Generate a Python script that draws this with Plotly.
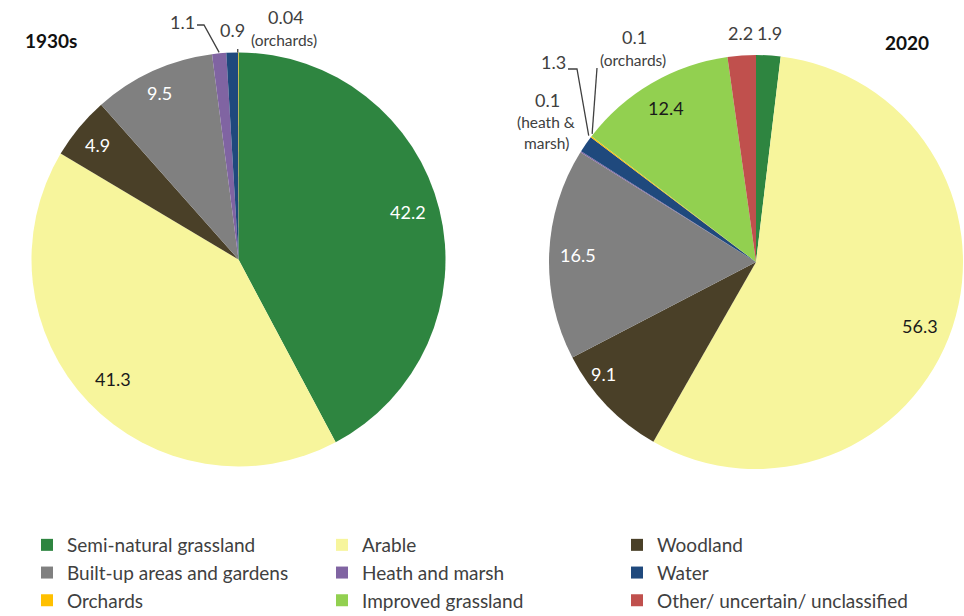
import math
import plotly.graph_objects as go

W, H = 964, 616

# ---------------- data ----------------
categories = ["Semi-natural grassland", "Arable", "Woodland",
              "Built-up areas and gardens", "Heath and marsh", "Water",
              "Orchards", "Improved grassland", "Other/ uncertain/ unclassified"]
category_colors = ["#2E8540", "#F7F59C", "#4A4028", "#808080", "#8064A2",
                   "#1F497D", "#FFC000", "#92D050", "#C0504D"]

labels_1930 = ["Semi-natural grassland", "Arable", "Woodland",
               "Built-up areas and gardens", "Heath and marsh", "Water", "Orchards"]
values_1930 = [42.2, 41.3, 4.9, 9.5, 1.1, 0.9, 0.04]
text_1930 = ["42.2", "41.3", "4.9", "9.5", "1.1", "0.9", "0.04"]

labels_2020 = ["Semi-natural grassland", "Arable", "Woodland",
               "Built-up areas and gardens", "Heath and marsh", "Water", "Orchards",
               "Improved grassland", "Other/ uncertain/ unclassified"]
values_2020 = [1.9, 56.3, 9.1, 16.5, 0.1, 1.3, 0.1, 12.4, 2.2]
text_2020 = ["1.9", "56.3", "9.1", "16.5", "0.1", "1.3", "0.1", "12.4", "2.2"]

titles = ["1930s", "2020"]

# ---------------- geometry (pixels) ----------------
PIE1 = (238.5, 259.5, 207)
PIE2 = (756.0, 262.0, 207)
FONT = "Lato"
TXT = "#404040"


def px(x):
    return x / W


def py(y):
    return 1 - y / H


def domain(pie):
    cx, cy, r = pie
    return dict(x=[px(cx - r), px(cx + r)], y=[py(cy + r), py(cy - r)])


def point(pie, values, i, frac, where=0.5, dtheta=0.0):
    cx, cy, r = pie
    tot = sum(values)
    cum = sum(values[:i]) + where * values[i]
    a = math.radians(360 * cum / tot + dtheta)
    return cx + frac * r * math.sin(a), cy - frac * r * math.cos(a)


cmap = dict(zip(categories, category_colors))

fig = go.Figure()
for labs, vals, pie in [(labels_1930, values_1930, PIE1), (labels_2020, values_2020, PIE2)]:
    fig.add_trace(go.Pie(
        labels=labs, values=vals, sort=False, direction="clockwise", rotation=0,
        marker=dict(colors=[cmap[l] for l in labs], line=dict(width=0)),
        textinfo="none", hoverinfo="label+value", domain=domain(pie),
    ))

annotations = []
shapes = []


def add_text(x, y, s, size=17, color=TXT, bold=False, xanchor="center"):
    annotations.append(dict(
        x=px(x), y=py(y), xref="paper", yref="paper", text=(f"<b>{s}</b>" if bold else s),
        showarrow=False, xanchor=xanchor, yanchor="middle",
        font=dict(family=FONT, size=size, color=color)))


def add_line(points):
    path = "M " + " L ".join(f"{px(x)},{py(y)}" for x, y in points)
    shapes.append(dict(type="path", path=path, xref="paper", yref="paper",
                       line=dict(color="#404040", width=1.3)))


LBL = 18
SUB = 15.5

# inside labels 1930s
inside_1930 = {0: (0.85, -1.5, "white"), 1: (0.84, 0, "#1a1a1a"), 2: (0.88, -0.5, "white"), 3: (0.89, -1, "white")}
for i, (f, dt, col) in inside_1930.items():
    x, y = point(PIE1, values_1930, i, f, dtheta=dt)
    add_text(x, y, text_1930[i], LBL, col)

# inside labels 2020
inside_2020 = {1: (0.85, 3, "#1a1a1a"), 2: (0.915, 7.5, "white"), 3: (0.86, 0, "white"), 7: (0.86, 0, "#1a1a1a")}
for i, (f, dt, col) in inside_2020.items():
    x, y = point(PIE2, values_2020, i, f, dtheta=dt)
    add_text(x, y, text_2020[i], LBL, col)

# outside labels 1930s
e = point(PIE1, values_1930, 5, 1.0)
add_text(e[0], 30, text_1930[5], LBL)
e = point(PIE1, values_1930, 4, 1.0)
add_text(182, 22, text_1930[4], LBL)
add_line([(197, 25), (204, 25), (e[0], e[1] - 1)])
add_text(286, 17, text_1930[6], LBL)
add_text(284, 40, "(orchards)", SUB)
e = point(PIE1, values_1930, 6, 1.0)
add_line([(e[0] - 0.5, 49), (e[0] - 0.5, e[1])])

# outside labels 2020
for i in (0, 8):
    x, y = point(PIE2, values_2020, i, 1.11)
    add_text(x, y, text_2020[i], LBL)
add_text(634, 37, text_2020[6], LBL)
add_text(633, 60, "(orchards)", SUB)
e = point(PIE2, values_2020, 6, 1.0)
add_line([(597, 68), (e[0] + 1, e[1] - 3)])
add_text(553, 62, text_2020[5], LBL)
e = point(PIE2, values_2020, 5, 1.0, where=0.9)
add_line([(568, 69), (577, 69), (e[0] - 1, e[1] - 3)])
add_text(547, 100, text_2020[4], LBL)
add_text(546, 122, "(heath &", SUB)
add_text(546, 143, "marsh)", SUB)

# titles
add_text(51, 40, titles[0], 19, "#111111", bold=True)
add_text(907, 43, titles[1], 19, "#111111", bold=True)

fig.update_layout(
    width=W, height=H,
    margin=dict(l=0, r=0, t=0, b=0, autoexpand=False),
    paper_bgcolor="white", plot_bgcolor="white",
    annotations=annotations, shapes=shapes,
    showlegend=True,
    legend=dict(orientation="h", x=px(27), xanchor="left", y=py(526), yanchor="top",
                entrywidth=250, entrywidthmode="pixels",
                font=dict(family=FONT, size=19, color=TXT),
                traceorder="normal", bgcolor="rgba(0,0,0,0)"),
)

fig.write_html("out.html")
